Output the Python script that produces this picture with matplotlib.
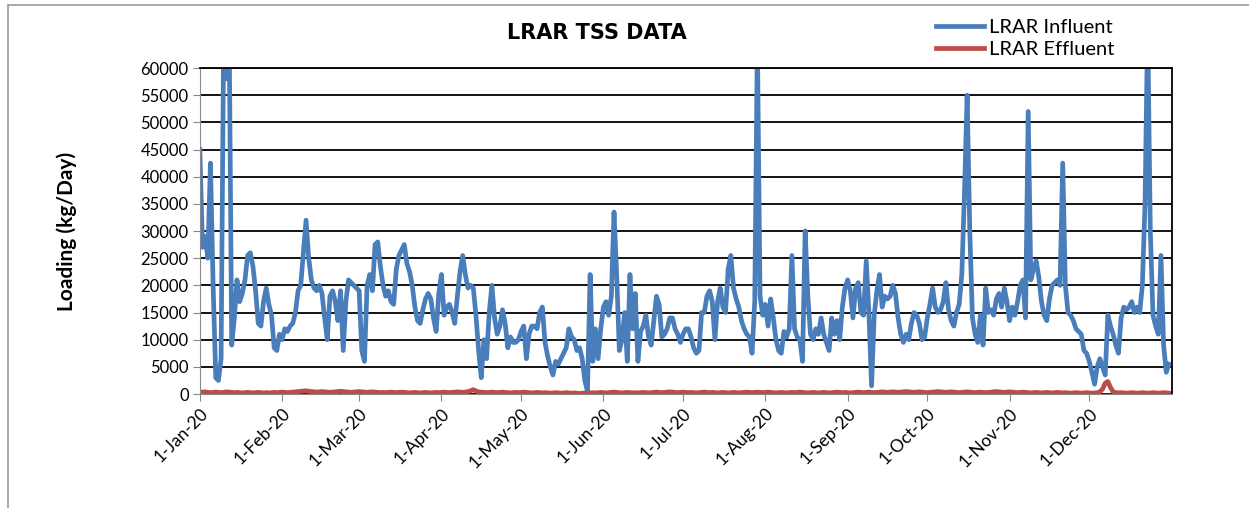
import numpy as np
import pandas as pd
import matplotlib
matplotlib.use("Agg")
import matplotlib.pyplot as plt
import matplotlib.dates as mdates
from matplotlib.patches import Rectangle

# daily TSS loading (kg/Day), 1-Jan-20 .. 31-Dec-20
influent = [
    45000, 27000, 29000, 25000, 42500, 20000, 3000, 2500, 6500, 68000,
    58000, 70000, 9000, 14000, 21000, 17000, 18500, 21000, 25500, 26000,
    23500, 19000, 13000, 12500, 17000, 19500, 16500, 14500, 8500, 8000,
    11000, 10000, 12000, 11500, 12500, 13000, 15000, 19000, 20000, 26000,
    32000, 25000, 21000, 19500, 19000, 20000, 18500, 14000, 10000, 18000,
    19000, 17000, 13500, 19000, 8000, 17000, 21000, 20500, 20000, 19500,
    19000, 8000, 6000, 20000, 22000, 19000, 27500, 28000, 23500, 20000,
    18000, 19000, 17000, 16500, 23000, 25500, 26500, 27500, 24000, 22500,
    20000, 16000, 13500, 13000, 15500, 17500, 18500, 17500, 14000, 11500,
    18500, 22000, 14500, 16000, 16500, 15000, 13000, 18000, 22500, 25500,
    22000, 19500, 20000, 19500, 14500, 8000, 3000, 10000, 6500, 15000,
    20000, 14000, 11000, 12500, 15500, 13000, 8500, 10500, 9500, 9500,
    10000, 11500, 12500, 6500, 11000, 12500, 12500, 12000, 15000, 16000,
    9500, 7000, 5000, 3500, 6000, 5500, 6500, 7500, 8500, 12000,
    10500, 10000, 8000, 8500, 6500, 2500, 500, 22000, 6000, 12000,
    6500, 12000, 16000, 17000, 14500, 18000, 33500, 22000, 8000, 10000,
    15000, 6000, 22000, 12000, 18500, 6000, 11500, 12500, 14500, 10500,
    9000, 13500, 18000, 16500, 10500, 11000, 12000, 14000, 14000, 12000,
    11000, 9500, 11000, 12000, 12000, 10500, 8500, 7500, 8000, 15000,
    15000, 18000, 19000, 17000, 10000, 17000, 19500, 16000, 15000, 23000,
    25500, 19500, 17500, 16000, 13500, 12000, 11000, 10500, 7500, 17000,
    65000, 18000, 14500, 16500, 12500, 17500, 14000, 10000, 8000, 7500,
    11500, 10500, 12000, 25500, 12000, 10500, 10000, 6000, 30000, 18000,
    11000, 10000, 12000, 11000, 14000, 11000, 9500, 8000, 14000, 11000,
    13500, 10000, 16000, 19500, 21000, 19000, 14000, 19500, 20500, 15000,
    14500, 24500, 15000, 1500, 14500, 19000, 22000, 16000, 18000, 17500,
    18000, 20000, 18500, 14000, 11000, 9500, 11000, 10000, 13000, 15000,
    14500, 13000, 10000, 10500, 14000, 16500, 19500, 16000, 15000, 15500,
    17000, 20500, 15500, 13500, 12500, 15000, 16500, 22000, 37000, 55000,
    30000, 14000, 11000, 9500, 14500, 9000, 19500, 15000, 15500, 14500,
    17500, 18500, 16000, 19500, 17000, 13500, 16000, 14500, 17000, 20000,
    21000, 14000, 52000, 21000, 23000, 24500, 21500, 17000, 14500, 13500,
    17500, 20000, 20500, 21000, 20000, 42500, 20000, 15000, 14500, 13500,
    12000, 11500, 11000, 8000, 7500, 6000, 4000, 1800, 5000, 6500,
    5000, 3500, 14500, 12500, 11000, 9000, 7500, 14000, 16000, 15500,
    16000, 17000, 15000, 16000, 15000, 20000, 35000, 68000, 30000, 14500,
    12500, 11000, 25500, 9000, 4000, 5500,
]

effluent = [
    300, 350, 400, 300, 250, 300, 350, 300, 250, 300,
    400, 350, 300, 250, 300, 250, 200, 250, 300, 250,
    200, 250, 300, 250, 200, 250, 200, 250, 300, 250,
    300, 350, 300, 250, 300, 350, 400, 450, 500, 550,
    600, 500, 450, 400, 350, 400, 450, 400, 350, 300,
    350, 400, 450, 500, 450, 400, 350, 300, 350, 400,
    450, 400, 350, 300, 350, 400, 350, 300, 250, 300,
    250, 300, 350, 300, 250, 300, 350, 300, 250, 200,
    250, 300, 250, 200, 250, 300, 250, 200, 250, 300,
    250, 300, 350, 300, 250, 300, 350, 400, 350, 300,
    350, 450, 600, 800, 550, 400, 350, 300, 250, 300,
    350, 300, 250, 300, 350, 300, 250, 200, 250, 300,
    250, 300, 350, 300, 250, 200, 250, 300, 250, 200,
    250, 200, 150, 200, 250, 200, 150, 200, 250, 200,
    150, 200, 150, 100, 150, 200, 150, 200, 250, 200,
    250, 300, 250, 200, 250, 300, 350, 300, 250, 200,
    250, 300, 250, 200, 250, 200, 250, 300, 250, 200,
    250, 300, 350, 300, 250, 300, 350, 400, 350, 300,
    250, 300, 350, 300, 250, 300, 250, 200, 250, 300,
    350, 300, 250, 300, 250, 200, 250, 300, 250, 200,
    250, 300, 250, 200, 250, 300, 350, 300, 250, 300,
    350, 300, 250, 300, 350, 300, 250, 200, 250, 300,
    250, 200, 250, 300, 250, 300, 350, 300, 250, 200,
    250, 300, 250, 200, 250, 300, 250, 200, 250, 300,
    350, 300, 250, 300, 250, 200, 250, 300, 350, 300,
    250, 300, 350, 300, 250, 300, 350, 400, 350, 300,
    350, 400, 350, 300, 350, 400, 450, 400, 350, 300,
    350, 400, 350, 300, 250, 300, 350, 400, 450, 400,
    350, 300, 350, 400, 350, 300, 250, 300, 350, 400,
    350, 300, 250, 300, 350, 300, 250, 300, 350, 400,
    450, 400, 350, 300, 350, 400, 350, 300, 250, 300,
    350, 300, 250, 200, 250, 300, 250, 200, 250, 300,
    250, 200, 250, 300, 250, 200, 250, 200, 150, 200,
    250, 200, 150, 200, 250, 200, 150, 200, 250, 400,
    900, 2000, 2300, 1200, 400, 250, 200, 250, 200, 150,
    200, 250, 200, 150, 200, 250, 200, 150, 200, 250,
    200, 150, 200, 250, 200, 150,
]

tick_labels = ["1-Jan-20", "1-Feb-20", "1-Mar-20", "1-Apr-20", "1-May-20", "1-Jun-20",
               "1-Jul-20", "1-Aug-20", "1-Sep-20", "1-Oct-20", "1-Nov-20", "1-Dec-20"]
y_ticks = list(range(0, 60001, 5000))

dates = pd.date_range("2020-01-01", periods=len(influent), freq="D")
tick_dates = pd.to_datetime(tick_labels, format="%d-%b-%y")

plt.rcParams["font.family"] = ["Lato", "DejaVu Sans"]

fig = plt.figure(figsize=(12.49, 5.08), dpi=100)
ax = fig.add_axes([0.160, 0.2244, 0.778, 0.6417])

ax.plot(dates, influent, color="#4a7ebb", lw=3.4, solid_joinstyle="round", label="LRAR Influent")
ax.plot(dates, effluent, color="#be4b48", lw=3.4, solid_joinstyle="round", label="LRAR Effluent")

ax.set_xlim(pd.Timestamp("2020-01-01"), pd.Timestamp("2021-01-01"))
ax.set_ylim(0, 60000)
ax.set_yticks(y_ticks)
ax.set_yticklabels([str(v) for v in y_ticks], fontsize=12)
ax.set_xticks(tick_dates)
ax.set_xticklabels(tick_labels, rotation=45, ha="right", rotation_mode="anchor", fontsize=12.5)
ax.tick_params(axis="both", direction="out", length=5, color="#888888", pad=3)

ax.grid(axis="y", color="black", lw=1.3)
ax.set_axisbelow(True)
for side in ["left", "bottom"]:
    ax.spines[side].set_color("#888888")
for side in ["top", "right"]:
    ax.spines[side].set_color("black")
    ax.spines[side].set_linewidth(1.3)

ax.set_ylabel("Loading (kg/Day)", fontsize=15, fontweight="bold", labelpad=46)
fig.text(0.478, 0.935, "LRAR TSS DATA", ha="center", va="center",
         fontsize=15, fontweight="bold", family="DejaVu Sans")

fig.legend(loc="upper left", bbox_to_anchor=(0.735, 0.998), frameon=False,
           fontsize=14.5, handlelength=2.4, handletextpad=0.2, labelspacing=0.25)

fig.patches.append(Rectangle((8 / 1249, -0.05), 1.1, 0.05 + 1 - 5 / 508, transform=fig.transFigure,
                             fill=False, edgecolor="#999999", lw=1.2))

fig.savefig("out.png", dpi=100)
